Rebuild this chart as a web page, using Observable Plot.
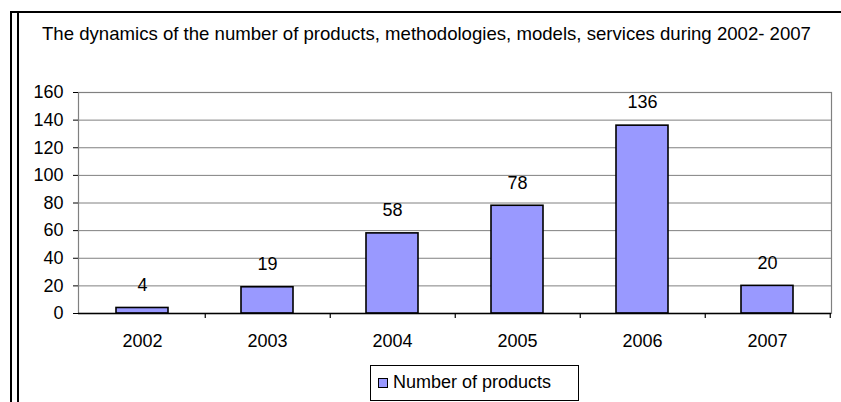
<!DOCTYPE html>
<html>
<head>
<meta charset="utf-8">
<script src="https://cdn.jsdelivr.net/npm/d3@7"></script>
<script src="https://cdn.jsdelivr.net/npm/@observablehq/plot@0.6"></script>
<style>
  html, body { margin: 0; padding: 0; background: #fff; }
  #wrap { position: relative; width: 841px; height: 402px; overflow: hidden; font-family: "Liberation Sans", Arial, sans-serif; }
  #chart { position: absolute; left: 0; top: 0; }
  .bl { position: absolute; background: #000; }
  #title { position: absolute; left: 42px; top: 23px; font-size: 18.6px; color: #000; white-space: nowrap; line-height: 22px; }
  #legend { position: absolute; left: 370px; top: 365px; width: 207px; height: 34px; border: 1px solid #000; background: #fff; }
  #legend .sw { position: absolute; left: 7px; top: 12px; width: 8px; height: 8px; border: 1px solid #000; background: #9999FF; }
  #legend .lt { position: absolute; left: 22px; top: 5px; font-size: 18px; line-height: 22px; white-space: nowrap; }
</style>
</head>
<body>
<div id="wrap">
  <div id="chart"></div>
  <div class="bl" style="left:10px; top:11px; width:2px; height:391px;"></div>
  <div class="bl" style="left:17px; top:11px; width:1.5px; height:391px;"></div>
  <div class="bl" style="left:10px; top:11px; width:831px; height:2px;"></div>
  <div id="title">The dynamics of the number of products, methodologies, models, services during 2002- 2007</div>
  <div id="legend"><div class="sw"></div><div class="lt">Number of products</div></div>
</div>
<script>
const years = ["2002", "2003", "2004", "2005", "2006", "2007"];
const products = [4, 19, 58, 78, 136, 20];
const yTicks = [0, 20, 40, 60, 80, 100, 120, 140, 160];

const data = years.map((y, i) => ({year: y, value: products[i]}));

const W = 841, H = 402, ML = 78, MR = 10, MT = 92, MB = 89;
const step = (W - ML - MR) / years.length;

const chart = Plot.plot({
  width: W,
  height: H,
  marginLeft: ML,
  marginRight: MR,
  marginTop: MT,
  marginBottom: MB,
  style: {fontFamily: "'Liberation Sans', Arial, sans-serif", fontSize: "18px", color: "#000", background: "transparent"},
  x: {domain: years, paddingInner: 0.586, paddingOuter: 0.293, axis: null},
  y: {domain: [0, 160], axis: null},
  marks: [
    Plot.ruleY(yTicks.filter(d => d > 0), {stroke: "#808080", strokeWidth: 1}),
    Plot.frame({stroke: "#808080", strokeWidth: 1.2}),
    Plot.barY(data, {x: "year", y: "value", fill: "#9999FF", stroke: "#000", strokeWidth: 1.6}),
    // y axis line and ticks
    Plot.ruleX([0], {frameAnchor: "left", stroke: "#000", strokeWidth: 1.2, insetBottom: -5}),
    Plot.ruleY([0], {stroke: "#000", strokeWidth: 1.4}),
    Plot.axisY({ticks: yTicks, tickSize: 5, tickPadding: 10, fontSize: 18, stroke: "#000", color: "#000", anchor: "left", label: null}),
    // x tick marks at category boundaries
    Plot.ruleX(years, {x: d => d, y1: 0, y2: 0, dx: step / 2, insetBottom: -5, stroke: "#000", strokeWidth: 1.2}),
    // category labels
    Plot.text(years, {x: d => d, y: 0, dy: 28, text: d => d, fontSize: 18, lineAnchor: "middle", fill: "#000"}),
    // value labels
    Plot.text(data, {x: "year", y: "value", dy: -23, text: d => String(d.value), fontSize: 18, lineAnchor: "middle", fill: "#000"})
  ]
});
document.getElementById("chart").appendChild(chart);
</script>
</body>
</html>
